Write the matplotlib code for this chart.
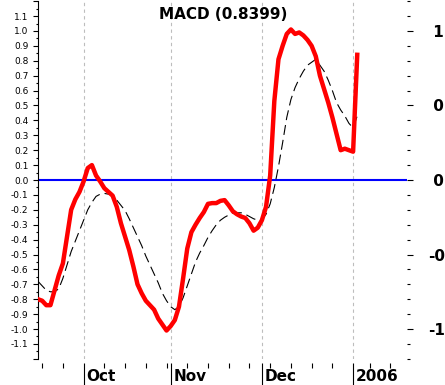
import matplotlib

matplotlib.use("Agg")
import matplotlib.pyplot as plt
import numpy as np
import pandas as pd
from matplotlib.ticker import FixedFormatter, FixedLocator, FuncFormatter, MultipleLocator

# Trading days shown on the x axis (one slot per business day)
START = "2005-09-16"
END = "2006-01-27"
HOLIDAYS = ["2006-01-02"]

TITLE = "MACD (0.8399)"
MONTH_LABELS = ["Oct", "Nov", "Dec", "2006"]
RIGHT_TICKS = [-1.0, -0.5, 0.0, 0.5, 1.0]
RIGHT_LABELS = ["-1", "-0", " 0", " 0", " 1"]  # as much of each label as shows

# MACD line, Sep 16 2005 .. Jan 4 2006
MACD = [
    -0.80, -0.81, -0.84, -0.84, -0.74, -0.64, -0.56, -0.38, -0.20, -0.13, -0.08,
    -0.01, 0.08, 0.10, 0.03, -0.01,
    -0.055, -0.08, -0.105, -0.18, -0.29,
    -0.38, -0.47, -0.58, -0.70, -0.76,
    -0.81, -0.84, -0.87, -0.93, -0.97,
    -1.01, -0.98, -0.94, -0.85, -0.66,
    -0.46, -0.35, -0.30, -0.255, -0.215,
    -0.16, -0.155, -0.155, -0.14, -0.135,
    -0.17, -0.21, -0.23, -0.245, -0.255,
    -0.29, -0.34, -0.32, -0.27, -0.18,
    0.03, 0.53, 0.81, 0.90, 0.98,
    1.01, 0.98, 0.99, 0.97, 0.94,
    0.90, 0.83, 0.70, 0.61, 0.52,
    0.42, 0.31, 0.20, 0.21, 0.20,
    0.19, 0.84,
]

# signal line (dashed)
SIGNAL = [
    -0.68, -0.71, -0.74, -0.75, -0.75, -0.73, -0.66, -0.57, -0.48, -0.41, -0.34,
    -0.27, -0.20, -0.15, -0.11, -0.095,
    -0.09, -0.095, -0.10, -0.135, -0.17,
    -0.205, -0.26, -0.32, -0.38, -0.44,
    -0.51, -0.57, -0.63, -0.69, -0.76,
    -0.81, -0.85, -0.87, -0.85, -0.79,
    -0.71, -0.63, -0.55, -0.49, -0.44,
    -0.385, -0.34, -0.30, -0.27, -0.25,
    -0.235, -0.22, -0.22, -0.22, -0.23,
    -0.245, -0.26, -0.27, -0.265, -0.23,
    -0.16, -0.05, 0.09, 0.25, 0.42,
    0.54, 0.62, 0.68, 0.73, 0.77,
    0.79, 0.81, 0.77, 0.73, 0.67,
    0.60, 0.52, 0.47, 0.43, 0.38,
    0.35, 0.43,
]

X_SLOTS = 89  # visible trading-day slots


def main() -> None:
    days = pd.bdate_range(START, END)
    days = days[~days.isin(pd.to_datetime(HOLIDAYS))][: X_SLOTS + 1]

    x = np.arange(len(MACD))

    month_starts = [i for i in range(1, len(days)) if days[i].month != days[i - 1].month]
    week_starts = [
        i for i in range(1, len(days)) if days[i].weekday() < days[i - 1].weekday()
    ]

    fig = plt.figure(figsize=(4.45, 3.85), dpi=100)
    ax = fig.add_axes([38 / 445, 26 / 385, 369 / 445, 358 / 385])

    ylim = (-1.201, 1.201)
    ax.set_xlim(0, X_SLOTS)
    ax.set_ylim(*ylim)

    for m in month_starts:
        ax.axvline(m, color="#bdbdbd", lw=0.8, linestyle=(0, (3, 3)), zorder=1)

    ax.axhline(0, color="#0000ff", lw=1.5, zorder=2)
    ax.plot(x, SIGNAL, color="black", lw=0.8, linestyle=(0, (9, 4.5)), zorder=3)
    ax.plot(x, MACD, color="#ff0000", lw=3.2, zorder=4)

    # spines
    for side in ("top", "right"):
        ax.spines[side].set_visible(False)
    ax.spines["bottom"].set_position(("outward", 2.9))
    ax.spines["bottom"].set_visible(False)
    ax.spines["left"].set_linewidth(0.8)

    # x ticks
    ax.xaxis.set_major_locator(FixedLocator(month_starts))
    ax.xaxis.set_minor_locator(FixedLocator(week_starts))
    ax.tick_params(axis="x", which="major", length=15.8, width=0.8, labelbottom=False)
    ax.tick_params(axis="x", which="minor", length=3.6, width=0.8)

    for m, label in zip(month_starts, MONTH_LABELS):
        ax.annotate(
            label,
            xy=(m, 0),
            xycoords=("data", "axes fraction"),
            xytext=(1.8, -16),
            textcoords="offset points",
            ha="left",
            va="baseline",
            fontsize=11,
            fontweight="bold",
        )

    # left y axis
    ax.yaxis.set_major_locator(MultipleLocator(0.1))
    ax.yaxis.set_minor_locator(MultipleLocator(0.05))
    ax.yaxis.set_major_formatter(
        FuncFormatter(lambda v, _: "" if abs(v) > 1.15 else f"{round(v, 1) + 0.0:.1f}")
    )
    ax.tick_params(axis="y", which="major", length=3.6, width=0.8, pad=3.2, labelsize=6.5)
    ax.tick_params(axis="y", which="minor", length=1.8, width=0.8)

    # right y axis
    ax2 = ax.twinx()
    ax2.set_ylim(*ylim)
    for side in ax2.spines:
        ax2.spines[side].set_visible(False)
    ax2.yaxis.set_major_locator(FixedLocator(RIGHT_TICKS))
    ax2.yaxis.set_minor_locator(MultipleLocator(0.1))
    ax2.yaxis.set_major_formatter(FixedFormatter(RIGHT_LABELS))
    ax2.tick_params(axis="y", which="major", length=4.3, width=0.8, pad=10.8, labelsize=11)
    ax2.tick_params(axis="y", which="minor", length=2.2, width=0.8)
    for lbl in ax2.get_yticklabels():
        lbl.set_fontweight("bold")

    fig.text(223.5 / 445, 1 - 19 / 385, TITLE, ha="center", va="baseline",
             fontsize=11, fontweight="bold")

    fig.savefig("out.png", dpi=100)


if __name__ == "__main__":
    main()
